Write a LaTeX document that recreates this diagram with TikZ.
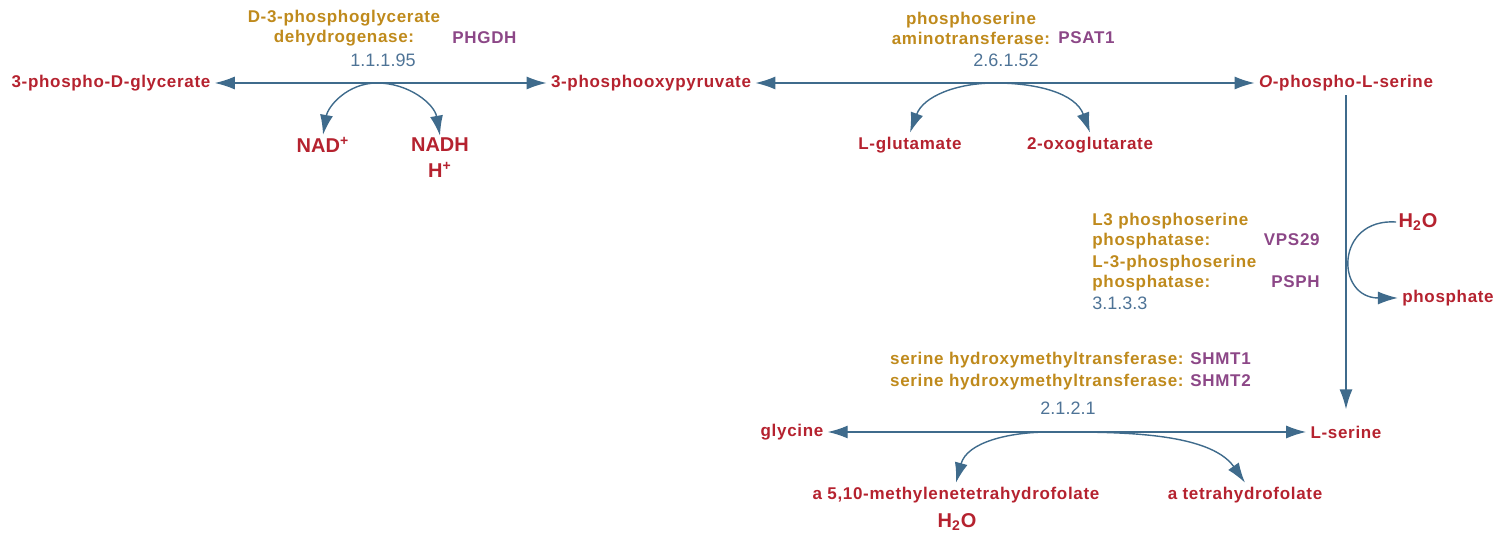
\documentclass[tikz,border=0pt]{standalone}
\usepackage{fontspec}
\setmainfont{Liberation Sans}
\newfontfamily\widesans[LetterSpace=4]{Liberation Sans}
\usepackage{xcolor}
\usetikzlibrary{arrows.meta}
\definecolor{cpdred}{HTML}{B5222F}
\definecolor{enzgold}{HTML}{BF8A1C}
\definecolor{genepurple}{HTML}{8C4787}
\definecolor{ecblue}{HTML}{4E7396}
\definecolor{rxnblue}{HTML}{3F6B8C}

\begin{document}
\begin{tikzpicture}[x=0.5pt,y=-0.5pt,
  cpd/.style={text=cpdred,font=\widesans\fontsize{8.5}{10}\selectfont\bfseries,inner sep=2pt},
  cof/.style={text=cpdred,font=\fontsize{10}{11}\selectfont\bfseries,inner sep=1pt},
  enz/.style={text=enzgold,font=\widesans\fontsize{8.5}{10}\selectfont\bfseries,inner sep=0pt},
  gene/.style={text=genepurple,font=\widesans\fontsize{8.5}{10}\selectfont\bfseries,inner sep=0pt},
  ec/.style={text=ecblue,font=\fontsize{9}{10}\selectfont,inner sep=0pt},
  link/.style={draw=rxnblue,line width=0.7pt,-{Latex[length=10pt,width=6.5pt]}},
  both/.style={draw=rxnblue,line width=0.7pt,{Latex[length=10pt,width=6.5pt]}-{Latex[length=10pt,width=6.5pt]}}]
\useasboundingbox (0,0) rectangle (1496,533);
\node[cpd] (pg) at (111,83) {3-phospho-D-glycerate};
\node[cpd] (php) at (651,83) {3-phosphooxypyruvate};
\node[cpd] (ops) at (1346,83) {\textit{O}-phospho-L-serine};
\node[cpd] (ser) at (1346,432) {L-serine};
\node[cpd] (gly) at (792,432) {glycine};
\node[cof] (nad) at (323,145) {NAD\textsuperscript{+}};
\node[cof] (nadh) at (440,145) {NADH};
\node[cof] (hp) at (440,170) {H\textsuperscript{+}};
\node[cpd] (glu) at (910,145) {L-glutamate};
\node[cpd] (oxo) at (1090,145) {2-oxoglutarate};
\node[cof] (wat) at (1418,222) {H\textsubscript{2}O};
\node[cpd] (pi) at (1448,298) {phosphate};
\node[cpd] (mthf) at (956,495) {a 5,10-methylenetetrahydrofolate};
\node[cof] (watb) at (957,522) {H\textsubscript{2}O};
\node[cpd] (thf) at (1245,495) {a tetrahydrofolate};
\node[enz,align=center] (phgdhn) at (344,28) {D-3-phosphoglycerate\\dehydrogenase:};
\node[gene,anchor=base west] (phgdh) at (452,44) {PHGDH};
\node[ec] (ec1) at (383,60) {1.1.1.95};
\node[enz,align=center] (psatn) at (971,28) {phosphoserine\\aminotransferase:};
\node[gene,anchor=base west] (psat) at (1058,44) {PSAT1};
\node[ec] (ec2) at (1006,60) {2.6.1.52};
\node[enz,align=left,anchor=north west] (vpsn) at (1092,213) {L3 phosphoserine\\phosphatase:};
\node[gene,anchor=base east] (vps) at (1320,246) {VPS29};
\node[enz,align=left,anchor=north west] (psphn) at (1092,255) {L-3-phosphoserine\\phosphatase:};
\node[gene,anchor=base east] (psph) at (1320,288) {PSPH};
\node[ec,anchor=west] (ec3) at (1092,303) {3.1.3.3};
\node[enz,anchor=base east] (shmtan) at (1184,365) {serine hydroxymethyltransferase:};
\node[gene,anchor=base west] (shmta) at (1190,365) {SHMT1};
\node[enz,anchor=base east] (shmtbn) at (1184,387) {serine hydroxymethyltransferase:};
\node[gene,anchor=base west] (shmtb) at (1190,387) {SHMT2};
\node[ec] (ec4) at (1068,408) {2.1.2.1};
\coordinate (rx1) at (377,83);
\coordinate (rx2) at (995,83);
\coordinate (rx4) at (1050,432);
\draw[both] (pg) -- (php);
\draw[both] (php) -- (ops);
\draw[link,shorten >=6pt] (ops) -- (ser);
\draw[both] (gly) -- (ser);
\draw[both] (nad.north) to[out=80,in=180] (rx1) to[out=0,in=100] (nadh.north);
\draw[both] (glu.north) to[out=70,in=180] (rx2) to[out=0,in=110] (oxo.north);
\draw[both] (mthf.north) to[out=75,in=180] (rx4) to[out=0,in=125,looseness=0.8] (thf.north);
\draw[link] (wat.west) .. controls (1335,218) and (1335,298) .. (pi.west);
\end{tikzpicture}
\end{document}
